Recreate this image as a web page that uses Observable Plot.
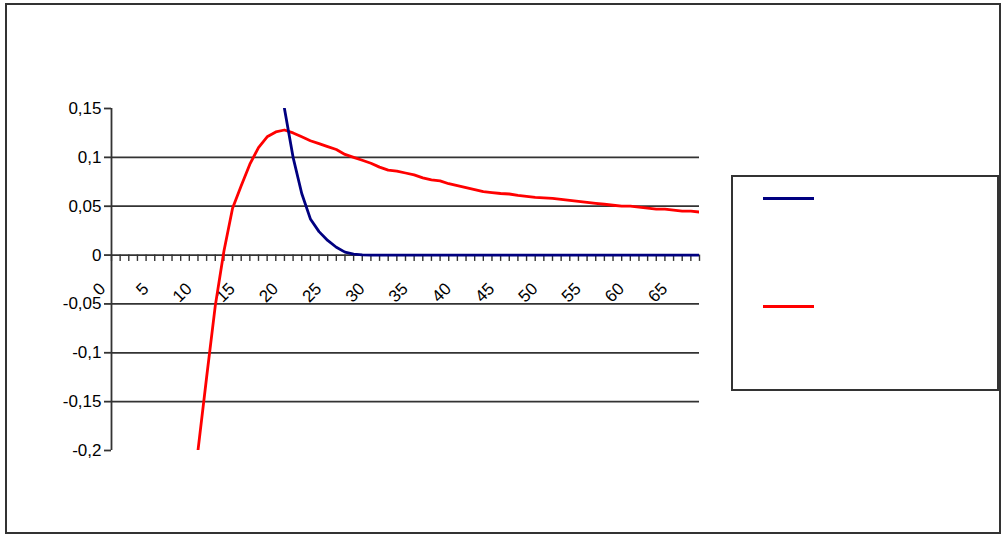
<!DOCTYPE html>
<html>
<head>
<meta charset="utf-8">
<script src="https://cdn.jsdelivr.net/npm/d3@7"></script>
<script src="https://cdn.jsdelivr.net/npm/@observablehq/plot@0.6"></script>
<style>
  body { margin: 0; background: #fff; }
  #wrap { position: relative; width: 1005px; height: 536px; overflow: hidden;
          font-family: "Liberation Sans", Arial, sans-serif; }
  #chart { position: absolute; left: 0; top: 0; }
  #frame { position: absolute; left: 5px; top: 3px; width: 996px; height: 531px;
           box-sizing: border-box; border: 2px solid #333; pointer-events: none; }
  #legend { position: absolute; left: 731px; top: 175px; width: 268px; height: 216px;
            box-sizing: border-box; border: 2px solid #333; background: #fff; }
  .sw { position: absolute; left: 30px; width: 51px; height: 3px; }
</style>
</head>
<body>
<div id="wrap">
  <div id="chart"></div>
  <div id="frame"></div>
  <div id="legend"></div>
</div>
<script>
// Category positions (x axis, one per tick)
const categories = [0,1,2,3,4,5,6,7,8,9,10,11,12,13,14,15,16,17,18,19,20,21,22,23,24,25,26,27,28,29,30,31,32,33,34,35,36,37,38,39,40,41,42,43,44,45,46,47,48,49,50,51,52,53,54,55,56,57,58,59,60,61,62,63,64,65,66,67,68];

// x tick labels (every 5th category)
const xLabels = [0,5,10,15,20,25,30,35,40,45,50,55,60,65];

// y ticks and their labels
const yTicks = [-0.2,-0.15,-0.1,-0.05,0,0.05,0.1,0.15];
const yLabels = ["-0,2","-0,15","-0,1","-0,05","0","0,05","0,1","0,15"];
const yGrid = [-0.15,-0.1,-0.05,0.05,0.1];

// Series values aligned with categories (null = no value)
const redSeries = [null,null,null,null,null,null,null,null,null,null,
  -0.2,-0.125,-0.052,0.004,0.048,0.071,0.093,0.110,0.121,0.126,
  0.128,0.125,0.121,0.117,0.114,0.111,0.108,0.103,0.100,0.097,
  0.094,0.090,0.087,0.086,0.084,0.082,0.079,0.077,0.076,0.073,
  0.071,0.069,0.067,0.065,0.064,0.063,0.0625,0.061,0.060,0.059,
  0.0585,0.058,0.057,0.056,0.055,0.054,0.053,0.052,0.051,0.050,
  0.050,0.049,0.048,0.047,0.047,0.046,0.045,0.045,0.044];
const blueSeries = [null,null,null,null,null,null,null,null,null,null,
  null,null,null,null,null,null,null,null,null,null,
  0.15,0.10,0.063,0.037,0.024,0.015,0.008,0.003,0.001,0.0002,
  0,0,0,0,0,0,0,0,0,0,
  0,0,0,0,0,0,0,0,0,0,
  0,0,0,0,0,0,0,0,0,0,
  0,0,0,0,0,0,0,0,0];

const seriesNames = ["blue", "red"];
const seriesColors = ["#000080", "#ff0000"];

const rows = [];
categories.forEach((c, i) => {
  if (blueSeries[i] != null) rows.push({x: c, y: blueSeries[i], s: "blue"});
  if (redSeries[i] != null) rows.push({x: c, y: redSeries[i], s: "red"});
});

const font = "'Liberation Sans', Arial, sans-serif";

const chart = Plot.plot({
  width: 1005,
  height: 536,
  marginLeft: 111,
  marginRight: 306,
  marginTop: 108,
  marginBottom: 86,
  x: {domain: [0, 68], axis: null},
  y: {domain: [-0.2, 0.15], axis: null},
  style: {fontFamily: font, fontSize: "17px", color: "#000", background: "transparent", overflow: "visible"},
  marks: [
    Plot.ruleY(yGrid, {stroke: "#333", strokeWidth: 1.8}),
    Plot.ruleY([0], {stroke: "#333", strokeWidth: 1.8}),
    Plot.ruleX([0], {stroke: "#333", strokeWidth: 1.8}),
    Plot.ruleX(categories, {x: d => d, y1: 0, y2: -0.0065, stroke: "#333", strokeWidth: 1.4}),
    Plot.axisY(yTicks, {
      label: null,
      tickSize: 7, tickPadding: 3, stroke: "#333", strokeWidth: 1.8, strokeOpacity: 1,
      fontSize: 17, fill: "#000",
      tickFormat: d => yLabels[yTicks.indexOf(d)]
    }),
    Plot.text(xLabels, {
      x: d => d, y: 0, text: d => String(d), rotate: -45, textAnchor: "end",
      dx: -9, dy: 31, fontSize: 17, fill: "#000"
    }),
    Plot.line(rows, {
      x: "x", y: "y", z: "s",
      stroke: d => seriesColors[seriesNames.indexOf(d.s)],
      strokeWidth: 2.8, clip: true
    })
  ]
});
document.getElementById("chart").appendChild(chart);

// Legend (line samples, no names as in the reference)
const legend = document.getElementById("legend");
const swatchTops = [20, 128];
seriesNames.forEach((name, i) => {
  const s = document.createElement("div");
  s.className = "sw";
  s.style.top = swatchTops[i] + "px";
  s.style.background = seriesColors[i];
  legend.appendChild(s);
});
</script>
</body>
</html>
